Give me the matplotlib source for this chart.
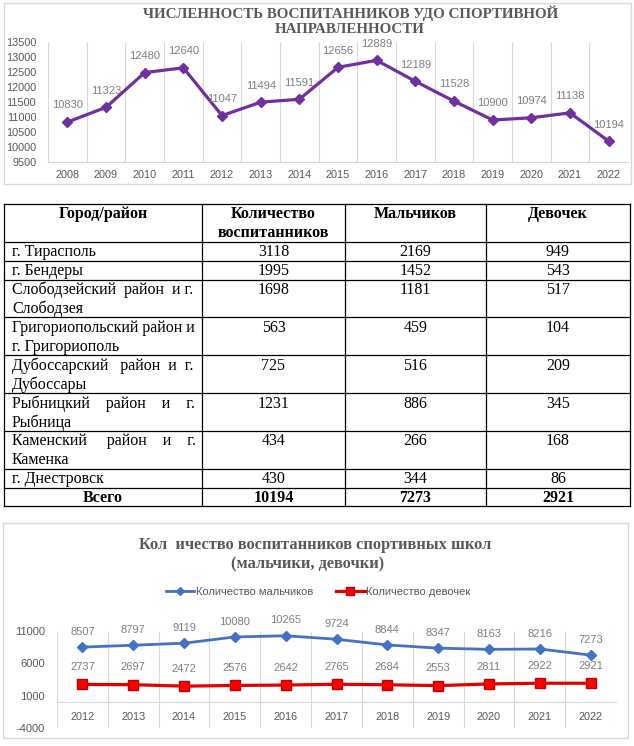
import matplotlib
matplotlib.use('Agg')
import matplotlib.pyplot as plt
import numpy as np
from matplotlib.patches import Rectangle
from matplotlib.lines import Line2D

plt.rcParams['axes.unicode_minus'] = False

# ---------------- data ----------------
years_total = ['2008', '2009', '2010', '2011', '2012', '2013', '2014', '2015',
               '2016', '2017', '2018', '2019', '2020', '2021', '2022']
total_students = [10830, 11323, 12480, 12640, 11047, 11494, 11591, 12656,
                  12889, 12189, 11528, 10900, 10974, 11138, 10194]
title_top = ['ЧИСЛЕННОСТЬ ВОСПИТАННИКОВ УДО СПОРТИВНОЙ', 'НАПРАВЛЕННОСТИ']

table_header = ['Город/район', 'Количество\nвоспитанников', 'Мальчиков', 'Девочек']
regions = ['г. Тирасполь', 'г. Бендеры', 'Слободзейский район и г.\nСлободзея',
           'Григориопольский район и\nг. Григориополь', 'Дубоссарский район и г.\nДубоссары',
           'Рыбницкий район и г.\nРыбница', 'Каменский район и г.\nКаменка', 'г. Днестровск']
region_total = [3118, 1995, 1698, 563, 725, 1231, 434, 430]
region_boys = [2169, 1452, 1181, 459, 516, 886, 266, 344]
region_girls = [949, 543, 517, 104, 209, 345, 168, 86]
total_row = ['Всего', 10194, 7273, 2921]

years_gender = ['2012', '2013', '2014', '2015', '2016', '2017', '2018', '2019',
                '2020', '2021', '2022']
boys = [8507, 8797, 9119, 10080, 10265, 9724, 8844, 8347, 8163, 8216, 7273]
girls = [2737, 2697, 2472, 2576, 2642, 2765, 2684, 2553, 2811, 2922, 2921]
title_bottom = ['Кол  ичество воспитанников спортивных школ', '(мальчики, девочки)']
legend_labels = ['Количество мальчиков', 'Количество девочек']

# ---------------- layout helpers ----------------
W, H, DPI = 634, 746, 100
SANS = ['Liberation Sans', 'DejaVu Sans']
SERIF = ['Liberation Serif', 'DejaVu Serif']
GRAY = '#595959'
LGRAY = '#7f7f7f'
GRID = '#D9D9D9'

fig = plt.figure(figsize=(W / DPI, H / DPI), dpi=DPI)
fig.patch.set_facecolor('white')
renderer = fig.canvas.get_renderer()


def rect(l, t, r, b):
    return [l / W, 1 - b / H, (r - l) / W, (b - t) / H]


ov = fig.add_axes([0, 0, 1, 1])
ov.set_xlim(0, W)
ov.set_ylim(H, 0)
ov.axis('off')


def text_width(t):
    return t.get_window_extent(renderer).width


def fit_title(s, x0, x1, y_base, max_fs=10.5):
    t = ov.text((x0 + x1) / 2, y_base, s, fontsize=10, ha='center', va='baseline',
                family=SERIF, fontweight='bold', color=GRAY)
    w = text_width(t)
    t.set_fontsize(min(max_fs, 10 * (x1 - x0) / w))
    return t


# chart frames
ov.add_patch(Rectangle((4, 3), 627, 181, fill=False, ec=GRID, lw=1))
ov.add_patch(Rectangle((3, 523), 625, 215, fill=False, ec=GRID, lw=1))

# ---------------- top chart ----------------
fit_title(title_top[0], 133, 569, 18, max_fs=10.8)
fit_title(title_top[1], 271, 429, 33, max_fs=10.8)

ax1 = fig.add_axes(rect(48, 42, 628, 162))
x1 = np.arange(len(years_total))
ax1.set_xlim(-0.5, len(years_total) - 0.5)
ax1.set_ylim(9500, 13500)
ax1.vlines(np.arange(len(years_total) + 1) - 0.5, 9500, 13500, color=GRID, lw=0.8, zorder=1)
ax1.plot(x1, total_students, color='#7030A0', lw=2.3, marker='D', ms=5, zorder=3)
for xi, v in zip(x1, total_students):
    ax1.annotate(str(v), (xi, v), xytext=(0, 12), textcoords='offset points',
                 ha='center', va='center', fontsize=8, color=LGRAY, family=SANS)
for s in ['top', 'left', 'right']:
    ax1.spines[s].set_visible(False)
ax1.spines['bottom'].set_color(GRID)
ax1.set_yticks(np.arange(9500, 13501, 500))
ax1.set_xticks(x1)
ax1.set_xticklabels(years_total)
ax1.tick_params(axis='both', length=0, colors=GRAY)
ax1.tick_params(axis='y', pad=8.5, labelsize=7.8)
ax1.tick_params(axis='x', pad=6, labelsize=7.8)
for lab in ax1.get_xticklabels() + ax1.get_yticklabels():
    lab.set_family(SANS)
ax1.patch.set_alpha(0)

# ---------------- table ----------------
col_x = [4, 202, 345, 486, 630]
line_h = 18.9
rows = [table_header] + [[r, a, b, c] for r, a, b, c in
                         zip(regions, region_total, region_boys, region_girls)] + [total_row]
nlines = [max(str(c).count('\n') + 1 for c in row) for row in rows]
row_y = [204]
for n in nlines:
    row_y.append(row_y[-1] + line_h * n)

TFS = 11.5
for y in row_y:
    ov.plot([col_x[0], col_x[-1]], [y, y], color='black', lw=0.9)
for x in col_x:
    ov.plot([x, x], [row_y[0], row_y[-1]], color='black', lw=0.9)

space_probe = ov.text(0, 0, 'a a', fontsize=TFS, family=SERIF)
space_probe2 = ov.text(0, 0, 'aa', fontsize=TFS, family=SERIF)
space_w = text_width(space_probe) - text_width(space_probe2)
space_probe.remove()
space_probe2.remove()


def justify(line, width):
    words = line.split(' ')
    if len(words) < 2:
        return line
    t = ov.text(0, 0, line, fontsize=TFS, family=SERIF)
    w = text_width(t)
    t.remove()
    extra = int(round((width - w) / space_w))
    gaps = len(words) - 1
    out = words[0]
    for i, wd in enumerate(words[1:]):
        n = 1 + max(extra, 0) // gaps + (1 if i < max(extra, 0) % gaps else 0)
        out += ' ' * n + wd
    return out


for ri, row in enumerate(rows):
    top = row_y[ri]
    header = ri == 0
    total = ri == len(rows) - 1
    weight = 'bold' if (header or total) else 'normal'
    for ci, cell in enumerate(row):
        lines = str(cell).split('\n')
        for li, line in enumerate(lines):
            yc = top + 10.5 + li * line_h
            if ci == 0 and not header and not total:
                if li < len(lines) - 1:
                    line = justify(line, 183)
                ov.text(12, yc, line, fontsize=TFS, family=SERIF, ha='left',
                        va='center', fontweight=weight)
            else:
                ov.text((col_x[ci] + col_x[ci + 1]) / 2, yc, line, fontsize=TFS,
                        family=SERIF, ha='center', va='center', fontweight=weight)

# ---------------- bottom chart ----------------
fit_title(title_bottom[0], 111, 520, 549, max_fs=11.8)
fit_title(title_bottom[1], 210, 405, 568, max_fs=11.8)

ax2 = fig.add_axes(rect(57, 631, 616, 728))
x2 = np.arange(len(years_gender))
ax2.set_xlim(-0.5, len(years_gender) - 0.5)
ax2.set_ylim(-4000, 11000)
ax2.vlines(np.arange(len(years_gender) + 1) - 0.5, -4000, 11000, color=GRID, lw=0.8, zorder=1)
ax2.plot(x2, boys, color='#4472C4', lw=2, marker='D', ms=5, zorder=3)
ax2.plot(x2, girls, color='#E00000', lw=2.3, marker='s', ms=6.5,
         mfc='#FF0000', mec='#C00000', zorder=3)
for xi, v in zip(x2, boys):
    ax2.annotate(str(v), (xi, v), xytext=(0, 11), textcoords='offset points',
                 ha='center', va='center', fontsize=8, color=LGRAY, family=SANS)
for xi, v in zip(x2, girls):
    ax2.annotate(str(v), (xi, v), xytext=(0, 12.5), textcoords='offset points',
                 ha='center', va='center', fontsize=8, color=LGRAY, family=SANS)
for s in ['top', 'left', 'right']:
    ax2.spines[s].set_visible(False)
ax2.spines['bottom'].set_position(('data', 0))
ax2.spines['bottom'].set_color(GRID)
ax2.set_yticks([-4000, 1000, 6000, 11000])
ax2.set_xticks(x2)
ax2.set_xticklabels(years_gender)
ax2.tick_params(axis='both', length=0, colors=GRAY)
ax2.tick_params(axis='y', pad=8.5, labelsize=8)
ax2.tick_params(axis='x', pad=7, labelsize=7.8)
for lab in ax2.get_xticklabels() + ax2.get_yticklabels():
    lab.set_family(SANS)
ax2.patch.set_alpha(0)

handles = [Line2D([], [], color='#4472C4', lw=2, marker='D', ms=4.5),
           Line2D([], [], color='#E00000', lw=2.3, marker='s', ms=5.5,
                  mfc='#FF0000', mec='#C00000')]
leg = fig.legend(handles, legend_labels, loc='center', ncol=2, frameon=False,
                 bbox_to_anchor=(318 / W, 1 - 592 / H),
                 handlelength=2.6, handletextpad=0.15, columnspacing=2.0,
                 prop={'family': SANS, 'size': 8})
for t in leg.get_texts():
    t.set_color(GRAY)

fig.savefig('out.png', dpi=DPI)
